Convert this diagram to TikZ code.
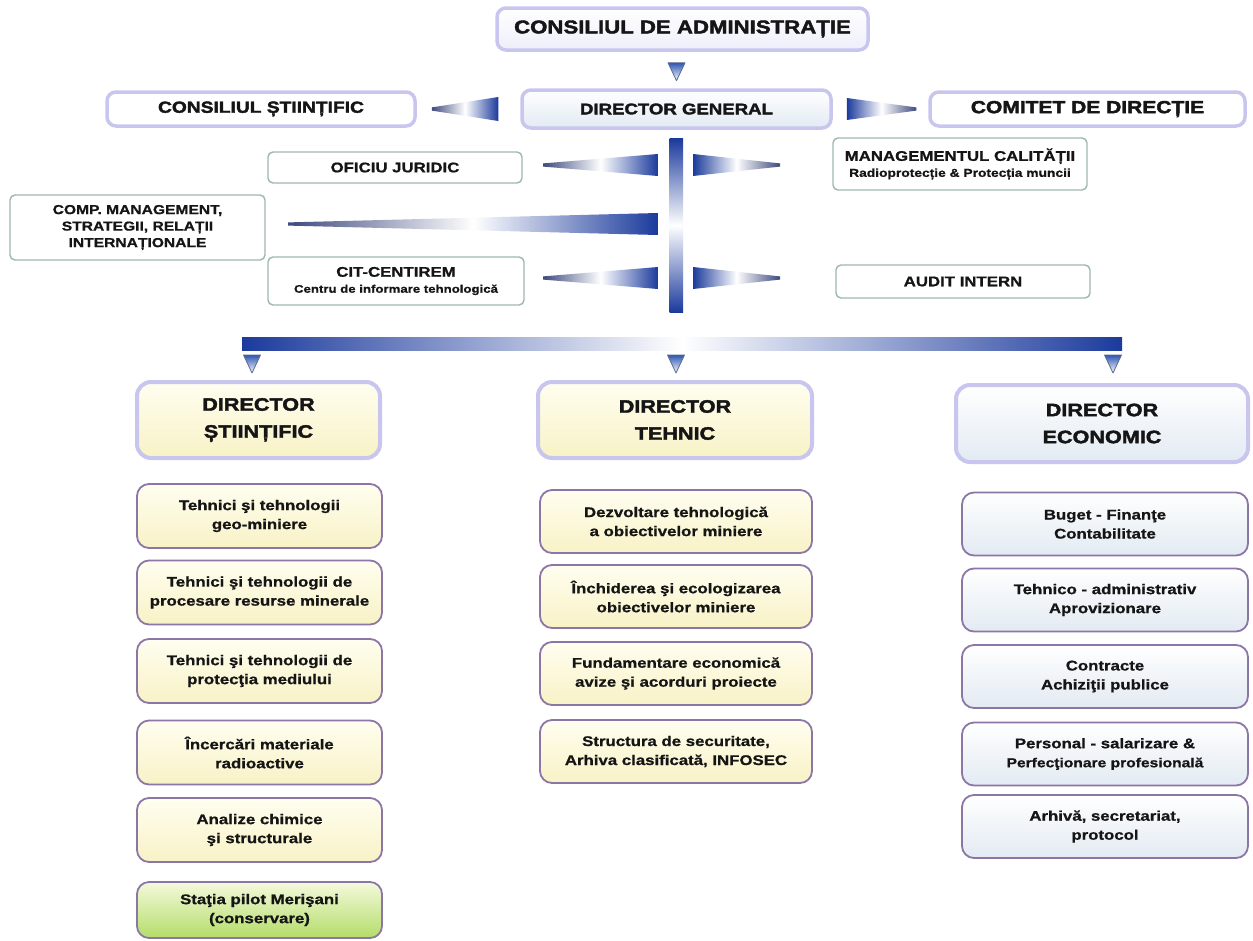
\documentclass[tikz,border=0pt]{standalone}
\usepackage{fontspec}
\setmainfont{Liberation Sans}
\newfontfamily\hv{Liberation Sans}[UprightFont={* Bold},FakeStretch=1.2,FakeBold=2.2]
\newfontfamily\bx{Liberation Sans}[UprightFont={* Bold},FakeStretch=1.2,FakeBold=0.9]
\usetikzlibrary{calc}
\definecolor{lav}{HTML}{C8C5EE}
\definecolor{lavL}{HTML}{EEEEFA}
\definecolor{sideb}{HTML}{9DB7B3}
\definecolor{subb}{HTML}{8C76A6}
\definecolor{ylw}{HTML}{F8F2C6}
\definecolor{ylwT}{HTML}{FFFEF0}
\definecolor{blu}{HTML}{E2EAF2}
\definecolor{barb}{HTML}{1B3A9C}
\definecolor{wgr}{HTML}{3E4A7E}
\definecolor{grn}{HTML}{B3DD68}
\definecolor{grnT}{HTML}{F4F9DC}
\definecolor{txt}{HTML}{151515}
\definecolor{triB}{HTML}{2E56B2}
\definecolor{triD}{HTML}{5A6A90}
\newcommand\tridown[1]{\shade[top color=triB, bottom color=white, draw=triD, line width=0.8pt, line join=round] ($(#1)+(-8.5,0)$) -- ($(#1)+(8.5,0)$) -- ($(#1)+(0,18)$) -- cycle;}
\newcommand\wedgeA[3]{\shade[left color=wgr, right color=barb, middle color=white] ($(#1)+(0,-1.6)$) -- ($(#2)+(0,-#3)$) -- ($(#2)+(0,#3)$) -- ($(#1)+(0,1.6)$) -- cycle;}
\newcommand\wedgeB[3]{\shade[left color=barb, right color=wgr, middle color=white] ($(#1)+(0,-#3)$) -- ($(#2)+(0,-1.6)$) -- ($(#2)+(0,1.6)$) -- ($(#1)+(0,#3)$) -- cycle;}
\begin{document}
\begin{tikzpicture}[x=1pt,y=-1pt,
  every node/.style={text=txt, inner sep=0pt, align=center},
  sz/.style 2 args={minimum width=#1, minimum height=#2},
  hbox/.style={draw=lav, line width=3.5pt, rounded corners=9pt, font=\hv\fontsize{16}{19}\selectfont},
  sidebox/.style={draw=sideb, line width=1.4pt, rounded corners=5pt, fill=white, font=\bx\fontsize{14}{16}\selectfont},
  dirbox/.style={draw=lav, line width=4pt, rounded corners=14pt, font=\hv\fontsize{18}{27}\selectfont},
  subbox/.style={draw=subb, line width=1.8pt, rounded corners=12pt, font=\bx\fontsize{14}{19}\selectfont},
  yel/.style={top color=ylwT, bottom color=ylw},
  bl/.style={top color=white, bottom color=blu},
]
\useasboundingbox (0,0) rectangle (1253,940);
\fill[white] (0,0) rectangle (1253,940);

% top level
\node[hbox, sz={371}{42}, top color=white, bottom color=lavL, font=\hv\fontsize{18.5}{21}\selectfont] (adm) at (682.5,29) {CONSILIUL DE ADMINISTRAȚIE};
\node[hbox, sz={309}{38}, top color=white, bottom color=blu, font=\hv\fontsize{15.5}{18}\selectfont] (dg) at (676.5,109) {DIRECTOR GENERAL};
\node[hbox, sz={308}{34}, fill=white] (cs) at (261,109) {CONSILIUL ȘTIINȚIFIC};
\node[hbox, sz={315}{34}, fill=white, font=\hv\fontsize{17.5}{19}\selectfont] (cd) at (1087.5,109) {COMITET DE DIRECȚIE};

% staff
\node[sidebox, sz={254}{31}] (oj) at (395,167.5) {OFICIU JURIDIC};
\node[sidebox, sz={255}{65}, font=\bx\fontsize{13}{16.5}\selectfont] (comp) at (137.5,227.5) {COMP. MANAGEMENT,\\STRATEGII, RELAȚII\\INTERNAȚIONALE};
\node[sidebox, sz={256}{48}] (cit) at (396,281) {CIT-CENTIREM\\{\fontsize{11}{13}\selectfont Centru de informare tehnologică}};
\node[sidebox, sz={254}{52}] (mc) at (960,164) {MANAGEMENTUL CALITĂȚII\\{\fontsize{11.5}{13}\selectfont Radioprotecție \& Protecția muncii}};
\node[sidebox, sz={254}{33}] (ai) at (963,281.5) {AUDIT INTERN};

% directors
\node[dirbox, yel, sz={243}{76}] (ds) at (258.5,420) {DIRECTOR\\ȘTIINȚIFIC};
\node[dirbox, yel, sz={274}{76}] (dt) at (675,420) {DIRECTOR\\TEHNIC};
\node[dirbox, bl, sz={292}{77}] (de) at (1102,423.5) {DIRECTOR\\ECONOMIC};

% left column
\node[subbox, yel, sz={245}{64}] (l1) at (259.5,516) {Tehnici şi tehnologii\\geo-miniere};
\node[subbox, yel, sz={245}{64}] (l2) at (259.5,592.5) {Tehnici şi tehnologii de\\procesare resurse minerale};
\node[subbox, yel, sz={245}{64}] (l3) at (259.5,671) {Tehnici şi tehnologii de\\protecţia mediului};
\node[subbox, yel, sz={245}{64}] (l4) at (259.5,752.5) {Încercări materiale\\radioactive};
\node[subbox, yel, sz={245}{64}] (l5) at (259.5,830) {Analize chimice\\şi structurale};
\node[subbox, top color=grnT, bottom color=grn, sz={245}{56}] (l6) at (259.5,910) {Staţia pilot Merişani\\(conservare)};

% middle column
\node[subbox, yel, sz={272}{63}] (m1) at (676,521.5) {Dezvoltare tehnologică\\a obiectivelor miniere};
\node[subbox, yel, sz={272}{63}] (m2) at (676,596.5) {Închiderea şi ecologizarea\\obiectivelor miniere};
\node[subbox, yel, sz={272}{63}] (m3) at (676,673.5) {Fundamentare economică\\avize şi acorduri proiecte};
\node[subbox, yel, sz={272}{63}] (m4) at (676,751.5) {Structura de securitate,\\Arhiva clasificată, INFOSEC};

% right column
\node[subbox, bl, sz={286}{63}] (r1) at (1105,524) {Buget - Finanţe\\Contabilitate};
\node[subbox, bl, sz={286}{63}] (r2) at (1105,600) {Tehnico - administrativ\\Aprovizionare};
\node[subbox, bl, sz={286}{63}] (r3) at (1105,676.5) {Contracte\\Achiziţii publice};
\node[subbox, bl, sz={286}{63}] (r4) at (1105,754) {Personal - salarizare \&\\{\fontsize{13}{15}\selectfont Perfecţionare profesională}};
\node[subbox, bl, sz={286}{63}] (r5) at (1105,826.5) {Arhivă, secretariat,\\protocol};

% connectors
\coordinate (t0) at ($(adm.south)+(-6,11)$);
\tridown{t0}
\coordinate (w1p) at ($(cs.east)+(15,0)$);
\coordinate (w1t) at ($(dg.west)+(-22,0)$);
\wedgeA{w1p}{w1t}{12}
\coordinate (w2t) at ($(dg.east)+(14,0)$);
\coordinate (w2p) at ($(cd.west)+(-12,0)$);
\wedgeB{w2t}{w2p}{11}

\coordinate (vt) at ($(dg.south)+(0,9)$);
\coordinate (vb) at (676,312);
\shade[top color=barb, bottom color=barb, middle color=white] ($(vt)+(-7,0)$) rectangle ($(vb)+(7,0)$);

\coordinate (w3p) at (543,165); \coordinate (w3t) at (658,165);
\wedgeA{w3p}{w3t}{11}
\coordinate (w4p) at (288,224); \coordinate (w4t) at (658,224);
\wedgeA{w4p}{w4t}{11}
\coordinate (w5p) at (543,278); \coordinate (w5t) at (658,278);
\wedgeA{w5p}{w5t}{11}
\coordinate (w6t) at (693,165); \coordinate (w6p) at (780,165);
\wedgeB{w6t}{w6p}{11}
\coordinate (w7t) at (693,278); \coordinate (w7p) at (780,278);
\wedgeB{w7t}{w7p}{11}

\coordinate (hl) at (242,337); \coordinate (hr) at (1122,350);
\shade[left color=barb, right color=barb, middle color=white] (hl) rectangle (hr);
\coordinate (t1) at (252,355); \coordinate (t2) at (676,355); \coordinate (t3) at (1113,355);
\tridown{t1}
\tridown{t2}
\tridown{t3}
\end{tikzpicture}
\end{document}
